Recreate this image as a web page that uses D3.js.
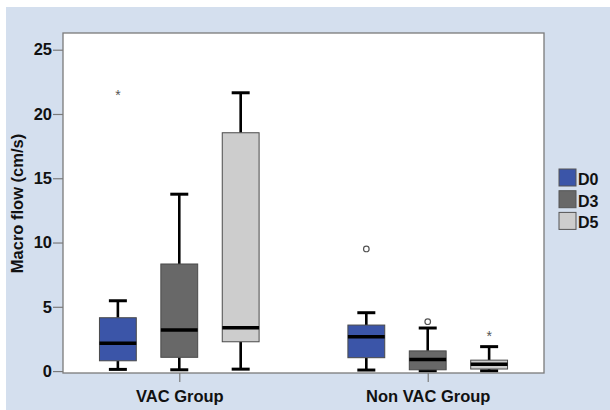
<!DOCTYPE html>
<html>
<head>
<meta charset="utf-8">
<script src="https://cdn.jsdelivr.net/npm/d3@7"></script>
<style>
  html, body { margin: 0; padding: 0; background: #ffffff; }
  svg { display: block; }
  text { font-family: "Liberation Sans", Arial, sans-serif; font-weight: bold; }
</style>
</head>
<body>
<script>
// Groups on the x axis and measurement days within each group
const groups = ["VAC Group", "Non VAC Group"];
const days = ["D0", "D3", "D5"];
const dayColors = ["#3b55a8", "#686868", "#cdcdcd"];

// Box-plot statistics, one row per day (D0, D3, D5), one column per group
const whiskerLow  = [[0.13, 0.08], [0.10, 0.02], [0.15, 0.02]];
const quartile1   = [[0.80, 1.04], [1.07, 0.10], [2.28, 0.16]];
const medians     = [[2.16, 2.67], [3.19, 0.90], [3.37, 0.54]];
const quartile3   = [[4.15, 3.58], [8.33, 1.57], [18.54, 0.85]];
const whiskerHigh = [[5.47, 4.54], [13.76, 3.35], [21.65, 1.90]];

// Points beyond the whiskers: circles are outliers, asterisks are extremes
const outlierGroup = ["VAC Group", "Non VAC Group", "Non VAC Group", "Non VAC Group"];
const outlierDay   = ["D0", "D0", "D3", "D5"];
const outlierValue = [21.7, 9.5, 3.84, 3.0];
const outlierKind  = ["extreme", "outlier", "outlier", "extreme"];

const yTicks = [0, 5, 10, 15, 20, 25];
const yTitle = "Macro flow (cm/s)";

const W = 610, H = 410;
const plot = { left: 63, right: 544, top: 33, bottom: 373 };

const svg = d3.select("body").append("svg")
  .attr("width", W).attr("height", H);

// Light blue chart background
svg.append("rect")
  .attr("x", 6).attr("y", 7)
  .attr("width", W - 6).attr("height", H - 7)
  .attr("fill", "#d4dfee");

// White plot area
svg.append("rect")
  .attr("x", plot.left).attr("y", plot.top)
  .attr("width", plot.right - plot.left).attr("height", plot.bottom - plot.top)
  .attr("fill", "#ffffff");

const y = d3.scaleLinear().domain([-0.15, 26.3]).range([plot.bottom, plot.top]);
const x = d3.scalePoint().domain(groups).range([plot.left, plot.right]).padding(0.468);
const step = 61.4;
const xDay = d3.scaleBand().domain(days)
  .range([-1.5 * step, 1.5 * step]).paddingInner(0.4).paddingOuter(0.2);
const bw = xDay.bandwidth();
const capW = 18;

// Y axis
const yAxis = d3.axisLeft(y).tickValues(yTicks).tickSize(10).tickPadding(1);
const yg = svg.append("g").attr("transform", `translate(${plot.left},0)`).call(yAxis);
yg.select(".domain").remove();
yg.selectAll(".tick line").attr("stroke", "#7a7a7a").attr("stroke-width", 1.2);
yg.selectAll(".tick text").style("font-size", "16.5px").style("fill", "#111");

// X axis
const xAxis = d3.axisBottom(x).tickSize(9).tickPadding(8);
const xg = svg.append("g").attr("transform", `translate(0,${plot.bottom})`).call(xAxis);
xg.select(".domain").remove();
xg.selectAll(".tick line").attr("stroke", "#7a7a7a").attr("stroke-width", 1.2);
xg.selectAll(".tick text").style("font-size", "16.5px").style("fill", "#111");

// Y axis title
svg.append("text")
  .attr("transform", `translate(23,${(132 + 275) / 2}) rotate(-90)`)
  .attr("text-anchor", "middle")
  .style("font-size", "16.5px").style("fill", "#111")
  .text(yTitle);

// Boxes
const boxes = [];
days.forEach((d, i) => {
  groups.forEach((g, j) => {
    boxes.push({
      group: g, day: d, color: dayColors[i],
      lo: whiskerLow[i][j], q1: quartile1[i][j], med: medians[i][j],
      q3: quartile3[i][j], hi: whiskerHigh[i][j]
    });
  });
});

const bg = svg.append("g");
const cx = b => x(b.group) + xDay(b.day) + bw / 2;

boxes.forEach(b => {
  const c = cx(b);
  const g = bg.append("g");
  // whisker stems
  g.append("line").attr("x1", c).attr("x2", c)
    .attr("y1", y(b.q3)).attr("y2", y(b.hi))
    .attr("stroke", "#000").attr("stroke-width", 2.6);
  g.append("line").attr("x1", c).attr("x2", c)
    .attr("y1", y(b.q1)).attr("y2", y(b.lo))
    .attr("stroke", "#000").attr("stroke-width", 2.6);
  // caps
  [b.hi, b.lo].forEach(v => {
    g.append("line").attr("x1", c - capW / 2).attr("x2", c + capW / 2)
      .attr("y1", y(v)).attr("y2", y(v))
      .attr("stroke", "#000").attr("stroke-width", 3);
  });
  // box
  g.append("rect")
    .attr("x", c - bw / 2).attr("width", bw)
    .attr("y", y(b.q3)).attr("height", y(b.q1) - y(b.q3))
    .attr("fill", b.color).attr("stroke", "#4a4a4a").attr("stroke-width", 1);
  // median
  g.append("line").attr("x1", c - bw / 2).attr("x2", c + bw / 2)
    .attr("y1", y(b.med)).attr("y2", y(b.med))
    .attr("stroke", "#000").attr("stroke-width", 3.5);
});

// Outliers and extremes
outlierValue.forEach((v, k) => {
  const c = x(outlierGroup[k]) + xDay(outlierDay[k]) + bw / 2;
  if (outlierKind[k] === "outlier") {
    svg.append("circle").attr("cx", c).attr("cy", y(v)).attr("r", 2.8)
      .attr("fill", "none").attr("stroke", "#555").attr("stroke-width", 1.2);
  } else {
    svg.append("text").attr("x", c).attr("y", y(v) + 8)
      .attr("text-anchor", "middle")
      .style("font-size", "14px").style("font-weight", "normal")
      .style("fill", "#555").text("*");
  }
});

// Plot frame
svg.append("rect")
  .attr("x", plot.left).attr("y", plot.top)
  .attr("width", plot.right - plot.left).attr("height", plot.bottom - plot.top)
  .attr("fill", "none").attr("stroke", "#7a7a7a").attr("stroke-width", 1.3);

// Legend
const lg = svg.append("g").attr("transform", "translate(559,169)");
days.forEach((d, i) => {
  const row = lg.append("g").attr("transform", `translate(0,${i * 21.7})`);
  row.append("rect").attr("width", 17).attr("height", 17)
    .attr("fill", dayColors[i]).attr("stroke", "#555").attr("stroke-width", 1);
  row.append("text").attr("x", 19).attr("y", 16)
    .style("font-size", "16px").style("fill", "#111").text(d);
});
</script>
</body>
</html>
